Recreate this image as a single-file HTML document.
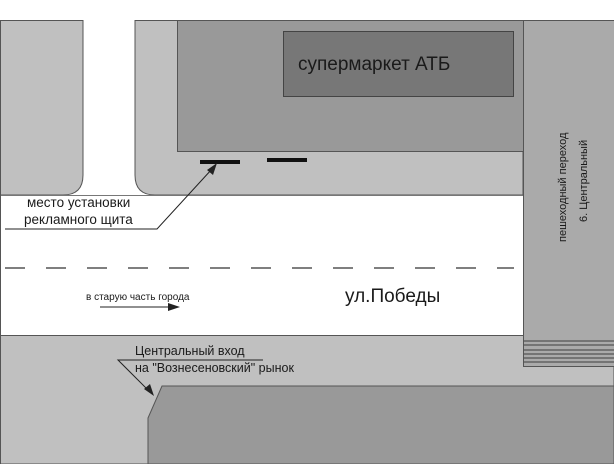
<!DOCTYPE html>
<html><head><meta charset="utf-8"><style>
body{margin:0;background:#fff}
svg{display:block}
text{font-family:"Liberation Sans",sans-serif;fill:#1a1a1a}
</style></head><body>
<svg width="614" height="464" viewBox="0 0 614 464">
<rect x="0" y="0" width="614" height="464" fill="#fff"/>
<rect x="0" y="335" width="614" height="129" fill="#c0c0c0" stroke="#555" stroke-width="1"/>
<path d="M0.5 20.5 H83 V175 Q83 195 63 195 H0.5 Z" fill="#c0c0c0" stroke="#555"/>
<path d="M135 20.5 H523 V195 H155 Q135 195 135 175 Z" fill="#c0c0c0" stroke="#555"/>
<rect x="177.5" y="20.5" width="346" height="131" fill="#999" stroke="#555"/>
<rect x="283.5" y="31.5" width="230" height="65" fill="#777" stroke="#444"/>
<text x="298" y="70" font-size="19">супермаркет АТБ</text>
<rect x="200" y="160" width="40" height="4" fill="#111"/>
<rect x="267" y="158" width="40" height="4" fill="#111"/>
<rect x="523.5" y="20.5" width="92" height="346" fill="#aaa" stroke="#555"/>
<g stroke="#555" stroke-width="1.2">
<line x1="523" y1="341" x2="614" y2="341"/><line x1="523" y1="345" x2="614" y2="345"/>
<line x1="523" y1="350" x2="614" y2="350"/><line x1="523" y1="354" x2="614" y2="354"/>
<line x1="523" y1="358" x2="614" y2="358"/><line x1="523" y1="362" x2="614" y2="362"/>
</g>
<text transform="translate(566,242) rotate(-90)" font-size="11">пешеходный переход</text>
<text transform="translate(587,222) rotate(-90)" font-size="11">6. Центральный</text>
<rect x="0" y="195" width="523" height="140" fill="#fff"/>
<line x1="0" y1="195.5" x2="523" y2="195.5" stroke="#777"/>
<line x1="0" y1="335.5" x2="523" y2="335.5" stroke="#555"/>
<line x1="0.5" y1="195" x2="0.5" y2="464" stroke="#555"/>
<line x1="5" y1="268" x2="514" y2="268" stroke="#333" stroke-width="1.3" stroke-dasharray="20,21"/>
<path d="M148 464 V418 L162 386 H614 V464 Z" fill="#999" stroke="#555"/>
<text x="27" y="207" font-size="13.5">место установки</text>
<text x="24" y="224" font-size="13.5">рекламного щита</text>
<polyline points="5,229 157,229 212,169" fill="none" stroke="#222"/>
<polygon points="217,163 207,170 213,175" fill="#222"/>
<text x="86" y="300" font-size="10">в старую часть города</text>
<line x1="100" y1="307" x2="172" y2="307" stroke="#222"/>
<polygon points="180,307 168,303 168,311" fill="#222"/>
<text x="345" y="302" font-size="19">ул.Победы</text>
<text x="135" y="355" font-size="12.5">Центральный вход</text>
<text x="135" y="372" font-size="12.5">на "Вознесеновский" рынок</text>
<polyline points="263,360 118,360 149,391" fill="none" stroke="#222"/>
<polygon points="154,396 144,389 150,384" fill="#222"/>
</svg>
</body></html>
